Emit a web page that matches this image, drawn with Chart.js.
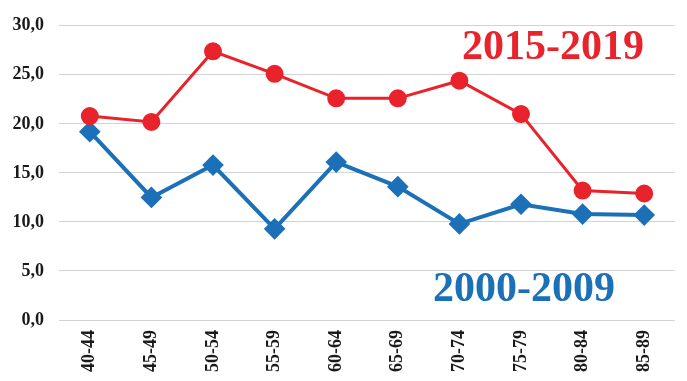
<!DOCTYPE html>
<html>
<head>
<meta charset="utf-8">
<script src="https://cdn.jsdelivr.net/npm/chart.js@4"></script>
<style>
  html, body { margin: 0; padding: 0; background: #fff; }
  #wrap { width: 687px; height: 381px; }
</style>
</head>
<body>
<div id="wrap"><canvas id="chart"></canvas></div>
<script>
const ageGroups = ["40-44", "45-49", "50-54", "55-59", "60-64", "65-69", "70-74", "75-79", "80-84", "85-89"];
const values2015 = [20.8, 20.2, 27.4, 25.1, 22.6, 22.6, 24.4, 21.0, 13.2, 12.9];
const values2000 = [19.2, 12.5, 15.8, 9.3, 16.1, 13.6, 9.8, 11.8, 10.8, 10.7];
const yTicks = [0, 5, 10, 15, 20, 25, 30];

const RED = "#e8232b";
const BLUE = "#1b70b8";
const SERIF = "'Liberation Serif', 'DejaVu Serif', serif";

// big series names drawn inside the plot, placed through the scales
const seriesLabels = {
    id: "seriesLabels",
    afterDatasetsDraw(chart) {
        const { ctx, scales: { x, y } } = chart;
        ctx.save();
        ctx.font = "bold 42px " + SERIF;
        ctx.textAlign = "center";
        ctx.textBaseline = "middle";
        ctx.fillStyle = RED;
        ctx.fillText("2015-2019", x.getPixelForValue(7.52), y.getPixelForValue(27.7));
        ctx.fillStyle = BLUE;
        ctx.fillText("2000-2009", x.getPixelForValue(7.05), y.getPixelForValue(3.0));
        ctx.restore();
    }
};

new Chart(document.getElementById("chart"), {
    type: "line",
    data: {
        labels: ageGroups,
        datasets: [
            {
                label: "2015-2019",
                data: values2015,
                borderColor: RED,
                backgroundColor: RED,
                borderWidth: 3,
                pointStyle: "circle",
                pointRadius: 7.5,
                pointHoverRadius: 7.5,
                tension: 0
            },
            {
                label: "2000-2009",
                data: values2000,
                borderColor: BLUE,
                backgroundColor: BLUE,
                borderWidth: 4,
                pointStyle: "rectRot",
                pointRadius: 8,
                pointHoverRadius: 8,
                tension: 0
            }
        ]
    },
    options: {
        responsive: true,
        maintainAspectRatio: false,
        animation: false,
        layout: { padding: { top: 25, right: 7, left: 0, bottom: 0 } },
        plugins: {
            legend: { display: false },
            tooltip: { enabled: false }
        },
        scales: {
            x: {
                offset: true,
                grid: { display: false, drawTicks: false },
                border: { display: false },
                ticks: {
                    color: "#1a1a1a",
                    font: { family: SERIF, size: 18, weight: "bold" },
                    maxRotation: 90,
                    minRotation: 90,
                    padding: 10
                },
                afterFit(scale) { scale.height = 61; }
            },
            y: {
                min: 0,
                max: 30,
                afterBuildTicks(scale) { scale.ticks = yTicks.map(v => ({ value: v })); },
                grid: { color: "#d2d2d2", lineWidth: 1, drawTicks: false },
                border: { display: false },
                ticks: {
                    color: "#1a1a1a",
                    font: { family: SERIF, size: 18, weight: "bold" },
                    padding: 15,
                    callback: v => v.toFixed(1).replace(".", ",")
                },
                afterFit(scale) { scale.width = 59; }
            }
        }
    },
    plugins: [seriesLabels]
});
</script>
</body>
</html>
